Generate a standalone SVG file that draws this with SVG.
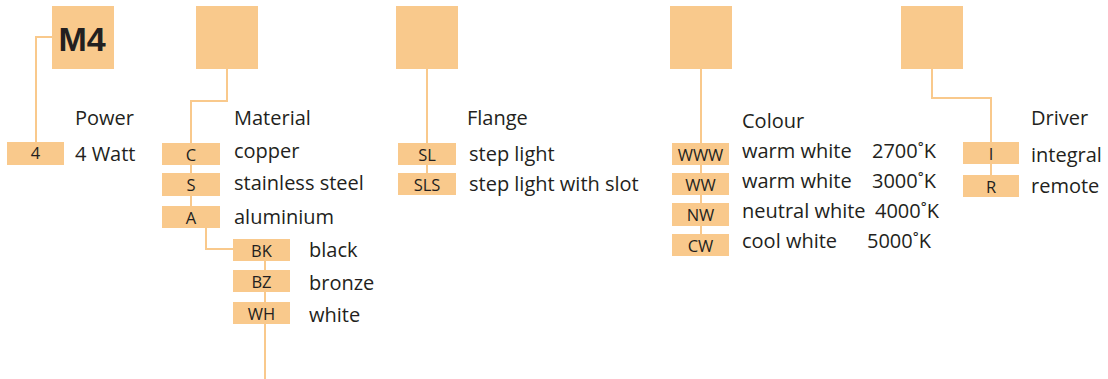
<svg xmlns="http://www.w3.org/2000/svg" width="1108" height="379" viewBox="0 0 1108 379">
<style>
.big{fill:#f9c98c}
.box{fill:#f9c98c}
.ln{fill:none;stroke:#f9c98c;stroke-width:2}
.t{font-family:"Open Sans","Liberation Sans",sans-serif;font-size:20px;fill:#231f20}
.c{font-family:"Open Sans","Liberation Sans",sans-serif;font-size:16.5px;fill:#231f20;text-anchor:middle}
.m{font-family:"Liberation Sans",Arial,sans-serif;font-size:34px;font-weight:bold;fill:#231f20;text-anchor:middle}
</style>
<g id="connectors">
<polyline class="ln" points="52,37 36,37 36,143"/>
<polyline class="ln" points="227,68 227,101 191,101 191,207"/>
<polyline class="ln" points="206,228 206,249 234,249"/>
<polyline class="ln" points="265,261 265,379"/>
<polyline class="ln" points="427,68 427,195"/>
<polyline class="ln" points="701,69 701,256"/>
<polyline class="ln" points="932,68 932,98 991,98 991,197"/>
</g>
<g id="power">
<rect class="big" x="52" y="6" width="62" height="63"/>
<text class="m" x="82" y="51">M4</text>
<text class="t" x="75" y="125">Power</text>
<rect class="box" x="7" y="142" width="57" height="23"/>
<text class="c" x="35.5" y="159">4</text>
<text class="t" x="75" y="161">4 Watt</text>
</g>
<g id="material">
<rect class="big" x="196" y="6" width="62" height="63"/>
<text class="t" x="234" y="125">Material</text>
<rect class="box" x="162" y="143" width="58" height="22"/>
<text class="c" x="191" y="161">C</text>
<text class="t" x="234" y="158">copper</text>
<rect class="box" x="162" y="173" width="58" height="23"/>
<text class="c" x="191" y="191">S</text>
<text class="t" x="234" y="190">stainless steel</text>
<rect class="box" x="162" y="206" width="58" height="22"/>
<text class="c" x="191" y="224">A</text>
<text class="t" x="234" y="224">aluminium</text>
<rect class="box" x="233" y="239" width="57" height="22"/>
<text class="c" x="261.5" y="257">BK</text>
<text class="t" x="309" y="257">black</text>
<rect class="box" x="233" y="270" width="57" height="22"/>
<text class="c" x="261.5" y="288">BZ</text>
<text class="t" x="309" y="290">bronze</text>
<rect class="box" x="233" y="302" width="57" height="22"/>
<text class="c" x="261.5" y="320">WH</text>
<text class="t" x="309" y="322">white</text>
</g>
<g id="flange">
<rect class="big" x="396" y="6" width="62" height="63"/>
<text class="t" x="467" y="125">Flange</text>
<rect class="box" x="398" y="143" width="58" height="22"/>
<text class="c" x="427" y="161">SL</text>
<text class="t" x="469" y="161">step light</text>
<rect class="box" x="398" y="173" width="58" height="22"/>
<text class="c" x="427" y="191">SLS</text>
<text class="t" x="469" y="191">step light with slot</text>
</g>
<g id="colour">
<rect class="big" x="670" y="6" width="62" height="63"/>
<text class="t" x="742" y="128">Colour</text>
<rect class="box" x="672" y="143" width="57" height="22"/>
<text class="c" x="700.5" y="161">WWW</text>
<text class="t" x="742" y="158">warm white</text>
<text class="t" x="872" y="158">2700˚K</text>
<rect class="box" x="672" y="173" width="57" height="22"/>
<text class="c" x="700.5" y="191">WW</text>
<text class="t" x="742" y="188">warm white</text>
<text class="t" x="872" y="188">3000˚K</text>
<rect class="box" x="672" y="203" width="57" height="23"/>
<text class="c" x="700.5" y="221">NW</text>
<text class="t" x="742" y="218">neutral white</text>
<text class="t" x="875" y="218">4000˚K</text>
<rect class="box" x="672" y="234" width="57" height="22"/>
<text class="c" x="700.5" y="252">CW</text>
<text class="t" x="742" y="248">cool white</text>
<text class="t" x="867" y="248">5000˚K</text>
</g>
<g id="driver">
<rect class="big" x="901" y="6" width="62" height="63"/>
<text class="t" x="1031" y="125">Driver</text>
<rect class="box" x="963" y="142" width="56" height="22"/>
<text class="c" x="991" y="160">I</text>
<text class="t" x="1031" y="162">integral</text>
<rect class="box" x="963" y="175" width="56" height="22"/>
<text class="c" x="991" y="193">R</text>
<text class="t" x="1031" y="193">remote</text>
</g>
</svg>
